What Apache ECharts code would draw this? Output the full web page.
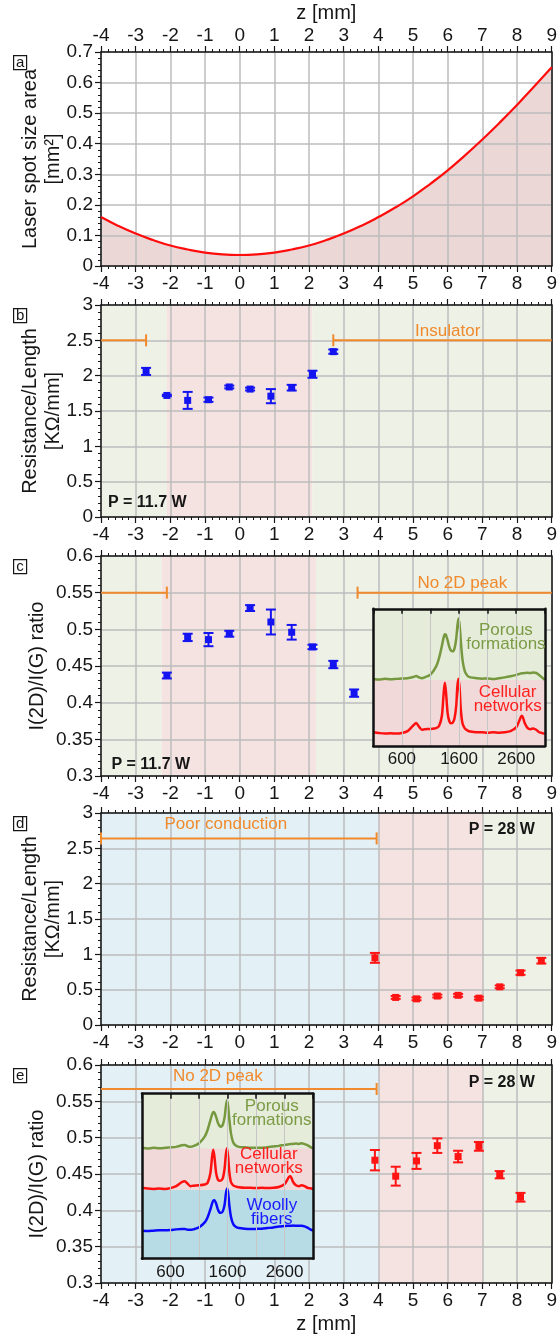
<!DOCTYPE html>
<html>
<head>
<meta charset="utf-8">
<title>Laser spot size, resistance and Raman ratio along z</title>
<script src="https://cdn.jsdelivr.net/npm/echarts@6/dist/echarts.min.js"></script>
<style>
  html, body { margin: 0; padding: 0; background: #ffffff; }
  #chart { width: 560px; height: 1337px; }
</style>
</head>
<body>
<div id="chart"></div>
<script>
// ---------------- data ----------------
// (a) laser spot size area [mm^2] along the focal axis z [mm]
const spotZ    = [-4, -3.5, -3, -2.5, -2, -1.5, -1, -0.5, 0, 0.5, 1, 1.5, 2, 2.5, 3, 3.5, 4, 4.5, 5, 5.5, 6, 6.5, 7, 7.5, 8, 8.5, 9];
const spotArea = [0.160, 0.131, 0.106, 0.085, 0.067, 0.054, 0.044, 0.038, 0.036, 0.038, 0.044, 0.054, 0.067, 0.085, 0.106, 0.131, 0.160, 0.192, 0.228, 0.269, 0.313, 0.362, 0.414, 0.469, 0.527, 0.588, 0.650];

// (b) resistance per length [kOhm/mm], P = 11.7 W
const resLowZ   = [-2.7, -2.1, -1.5, -0.9, -0.3, 0.3, 0.9, 1.5, 2.1, 2.7];
const resLowVal = [2.06, 1.72, 1.65, 1.66, 1.84, 1.81, 1.71, 1.83, 2.02, 2.34];
const resLowErr = [0.05, 0.01, 0.12, 0.03, 0.02, 0.02, 0.10, 0.04, 0.05, 0.03];

// (c) I(2D)/I(G) ratio, P = 11.7 W
const ratioLowZ   = [-2.1, -1.5, -0.9, -0.3, 0.3, 0.9, 1.5, 2.1, 2.7, 3.3];
const ratioLowVal = [0.437, 0.489, 0.486, 0.494, 0.529, 0.510, 0.496, 0.476, 0.452, 0.413];
const ratioLowErr = [0.004, 0.005, 0.009, 0.004, 0.004, 0.017, 0.010, 0.003, 0.005, 0.005];

// (d) resistance per length [kOhm/mm], P = 28 W
const resHighZ   = [3.9, 4.5, 5.1, 5.7, 6.3, 6.9, 7.5, 8.1, 8.7];
const resHighVal = [0.95, 0.39, 0.37, 0.41, 0.42, 0.38, 0.54, 0.74, 0.91];
const resHighErr = [0.07, 0.02, 0.02, 0.02, 0.02, 0.02, 0.02, 0.03, 0.04];

// (e) I(2D)/I(G) ratio, P = 28 W
const ratioHighZ   = [3.9, 4.5, 5.1, 5.7, 6.3, 6.9, 7.5, 8.1];
const ratioHighVal = [0.469, 0.447, 0.468, 0.489, 0.474, 0.488, 0.449, 0.418];
const ratioHighErr = [0.014, 0.013, 0.011, 0.010, 0.008, 0.006, 0.005, 0.006];

// morphology regions along z
const regionsB = [[-4, -2.1, 'green'], [-2.1, 2.1, 'pink'], [2.1, 9, 'green']];
const regionsC = [[-4, -2.25, 'green'], [-2.25, 2.2, 'pink'], [2.2, 9, 'green']];
const regionsD = [[-4, 4, 'blue'], [4, 7.03, 'pink'], [7.03, 9, 'green']];
const regionsE = [[-4, 4, 'blue'], [4, 7.03, 'pink'], [7.03, 9, 'green']];

// ranges without a measurable value
const insulatorRanges = [[-4, -2.7], [2.7, 9]];
const insulatorLevel = 2.5;
const no2DRangesLow = [[-4, -2.1], [3.4, 9]];
const no2DLevelLow = 0.55;
const poorConductionRanges = [[-4, 3.95]];
const poorConductionLevel = 2.64;
const no2DRangesHigh = [[-4, 3.95]];
const no2DLevelHigh = 0.567;

// Raman spectra (insets), normalised stacked intensity
const ramanShift = [100, 200, 300, 400, 500, 600, 700, 800, 850, 900, 950, 1000, 1100, 1200, 1250, 1300, 1330, 1350, 1370, 1400, 1430, 1460, 1490, 1520, 1550, 1570, 1590, 1610, 1630, 1660, 1700, 1750, 1800, 1900, 2000, 2100, 2200, 2300, 2400, 2500, 2600, 2650, 2680, 2700, 2720, 2750, 2800, 2850, 2900, 2950, 3000, 3050, 3100];
const ramanTickLabels = [600, 1600, 2600];

const porousLow = [0.488, 0.484, 0.490, 0.486, 0.489, 0.492, 0.494, 0.503, 0.510, 0.500, 0.494, 0.500, 0.520, 0.580, 0.640, 0.730, 0.790, 0.815, 0.810, 0.770, 0.720, 0.695, 0.690, 0.710, 0.780, 0.870, 0.930, 0.880, 0.770, 0.630, 0.545, 0.510, 0.500, 0.494, 0.490, 0.492, 0.488, 0.494, 0.500, 0.508, 0.518, 0.525, 0.528, 0.530, 0.530, 0.532, 0.533, 0.531, 0.536, 0.532, 0.518, 0.500, 0.482];
const cellularLow = [0.100, 0.094, 0.090, 0.093, 0.090, 0.095, 0.108, 0.150, 0.168, 0.140, 0.118, 0.122, 0.124, 0.130, 0.145, 0.220, 0.380, 0.460, 0.400, 0.240, 0.180, 0.165, 0.170, 0.200, 0.290, 0.430, 0.490, 0.420, 0.270, 0.165, 0.128, 0.112, 0.105, 0.100, 0.100, 0.097, 0.100, 0.097, 0.100, 0.108, 0.135, 0.180, 0.210, 0.220, 0.205, 0.165, 0.130, 0.122, 0.128, 0.118, 0.100, 0.094, 0.088];

const porousHigh = [0.672, 0.668, 0.672, 0.670, 0.672, 0.675, 0.678, 0.688, 0.690, 0.682, 0.678, 0.682, 0.700, 0.740, 0.780, 0.840, 0.875, 0.890, 0.885, 0.860, 0.825, 0.805, 0.800, 0.815, 0.860, 0.920, 0.960, 0.925, 0.850, 0.760, 0.705, 0.685, 0.678, 0.675, 0.672, 0.673, 0.672, 0.676, 0.680, 0.684, 0.690, 0.692, 0.694, 0.695, 0.695, 0.696, 0.698, 0.696, 0.700, 0.695, 0.688, 0.678, 0.668];
const cellularHigh = [0.430, 0.425, 0.423, 0.425, 0.423, 0.428, 0.440, 0.465, 0.470, 0.455, 0.440, 0.443, 0.445, 0.450, 0.460, 0.520, 0.620, 0.660, 0.620, 0.520, 0.480, 0.472, 0.475, 0.490, 0.550, 0.630, 0.670, 0.620, 0.530, 0.465, 0.445, 0.437, 0.433, 0.430, 0.430, 0.428, 0.430, 0.428, 0.430, 0.435, 0.452, 0.480, 0.497, 0.500, 0.490, 0.465, 0.445, 0.440, 0.445, 0.440, 0.430, 0.427, 0.423];
const woollyHigh = [0.170, 0.168, 0.170, 0.172, 0.172, 0.174, 0.178, 0.180, 0.180, 0.176, 0.175, 0.178, 0.190, 0.220, 0.250, 0.300, 0.335, 0.352, 0.355, 0.335, 0.300, 0.280, 0.278, 0.290, 0.330, 0.390, 0.425, 0.400, 0.330, 0.255, 0.210, 0.192, 0.186, 0.182, 0.180, 0.181, 0.182, 0.186, 0.190, 0.195, 0.198, 0.200, 0.200, 0.200, 0.200, 0.201, 0.200, 0.200, 0.200, 0.196, 0.188, 0.178, 0.170];

const insetBandsLow  = [[0, 0.48, 'pink'], [0.48, 1, 'green']];
const insetBandsHigh = [[0, 0.417, 'blue'], [0.417, 0.67, 'pink'], [0.67, 1, 'green']];

// ---------------- styling ----------------
const FONT = '"Liberation Sans", Arial, Helvetica, sans-serif';
const INK = '#161616';
const GRIDLINE = '#bdbdbd';
const ORANGE = '#f08a2c';
const BLUE = '#1414f0';
const RED = '#ff1414';
const SPOT_RED = '#ff0d0d';
const SPOT_FILL = '#ebd7d5';
const BAND = { green: '#eef1e6', pink: '#f5e3e1', blue: '#e3f0f5' };
const INSET_BAND = { green: '#e6ecda', pink: '#f0d9d8', blue: '#b8dce6' };
const SPEC = { green: '#76983f', red: '#ff1010', blue: '#0a0aff' };
const SPEC_TEXT = { green: '#7b9b45', red: '#ff2020', blue: '#1a1aff' };

const LEFT = 101, WIDTH = 455;
const panels = [
  { top: 52,   height: 214, min: 0,   max: 0.7, step: 0.1,  name: 'Laser spot size area\n[mm²]', gap: 36 },
  { top: 305,  height: 212, min: 0,   max: 3,   step: 0.5,  name: 'Resistance/Length\n[KΩ/mm]', gap: 36 },
  { top: 556,  height: 220, min: 0.3, max: 0.6, step: 0.05, name: 'I(2D)/I(G) ratio', gap: 52 },
  { top: 813,  height: 212, min: 0,   max: 3,   step: 0.5,  name: 'Resistance/Length\n[KΩ/mm]', gap: 36 },
  { top: 1065, height: 221, min: 0.3, max: 0.6, step: 0.05, name: 'I(2D)/I(G) ratio', gap: 52 }
];
const Z_MIN = -4, Z_MAX = 9;
const RAMAN_MIN = 100, RAMAN_MAX = 3100;

const px = z => LEFT + (z - Z_MIN) / (Z_MAX - Z_MIN) * WIDTH;
const py = (p, v) => p.top + (p.max - v) / (p.max - p.min) * p.height;

const tickLabel = { fontFamily: FONT, fontSize: 19, color: INK };
const nameText = { fontFamily: FONT, fontSize: 20, color: INK, lineHeight: 23 };
const frameLine = { show: true, onZero: false, lineStyle: { color: INK, width: 1.5 } };
const majorTick = { show: true, inside: false, length: 6, lineStyle: { color: INK, width: 1.2 } };
const minorTick = { show: true, splitNumber: 5, length: 3, lineStyle: { color: INK, width: 1 } };

const grid = [], xAxis = [], yAxis = [], series = [];

panels.forEach((p, i) => {
  grid.push({ left: LEFT, top: p.top, width: WIDTH, height: p.height });
  // bottom z axis with labels
  xAxis.push({
    gridIndex: i, type: 'value', position: 'bottom', min: Z_MIN, max: Z_MAX, interval: 1, z: 3,
    axisLine: frameLine, axisTick: majorTick, minorTick: minorTick,
    axisLabel: Object.assign({ show: true, margin: 8 }, tickLabel),
    splitLine: { show: true, lineStyle: { color: GRIDLINE, width: 1.5 } },
    name: i === 4 ? 'z [mm]' : '', nameLocation: 'middle', nameGap: 30, nameMoveOverlap: false, nameTextStyle: nameText
  });
  // top z axis (ticks only, labels on the first panel)
  xAxis.push({
    gridIndex: i, type: 'value', position: 'top', min: Z_MIN, max: Z_MAX, interval: 1, z: 3,
    axisLine: frameLine, axisTick: majorTick, minorTick: minorTick,
    axisLabel: Object.assign({ show: i === 0, margin: 7 }, tickLabel),
    splitLine: { show: false },
    name: i === 0 ? 'z [mm]' : '', nameLocation: 'middle', nameGap: 27, nameMoveOverlap: false, nameTextStyle: nameText
  });
  yAxis.push({
    gridIndex: i, type: 'value', position: 'left', min: p.min, max: p.max, interval: p.step, z: 3,
    axisLine: frameLine, axisTick: majorTick, minorTick: minorTick,
    axisLabel: Object.assign({ show: true, margin: 8 }, tickLabel),
    splitLine: { show: true, lineStyle: { color: GRIDLINE, width: 1.5 } },
    name: p.name, nameLocation: 'middle', nameGap: p.gap, nameMoveOverlap: false, nameTextStyle: nameText
  });
  yAxis.push({
    gridIndex: i, type: 'value', position: 'right', min: p.min, max: p.max, interval: p.step, z: 3,
    axisLine: frameLine, axisTick: { show: false }, axisLabel: { show: false }, splitLine: { show: false }
  });
});

// ---- insets (Raman spectra) placed in panel coordinates ----
function insetBox(pi, z1, z2, vTop, vBottom) {
  const p = panels[pi];
  const l = px(z1), r = px(z2), t = py(p, vTop), b = py(p, vBottom);
  return { left: l, top: t, width: r - l, height: b - t };
}
const insets = [insetBox(2, 3.78, 8.68, 0.528, 0.341), insetBox(4, -2.83, 2.06, 0.561, 0.337)];
const insetFrame = { show: true, onZero: false, lineStyle: { color: '#111', width: 2.5 } };
insets.forEach((box, k) => {
  const gi = 5 + k;
  grid.push(box);
  xAxis.push({
    gridIndex: gi, type: 'value', position: 'bottom', min: RAMAN_MIN, max: RAMAN_MAX, interval: 500, z: 8,
    axisLine: insetFrame, axisTick: { show: false },
    axisLabel: { show: true, margin: 5, fontFamily: FONT, fontSize: 17, color: INK,
      formatter: v => ramanTickLabels.indexOf(v) >= 0 ? String(v) : '' },
    splitLine: { show: true, lineStyle: { color: '#c6c6c6', width: 1 } }
  });
  xAxis.push({
    gridIndex: gi, type: 'value', position: 'top', min: RAMAN_MIN, max: RAMAN_MAX, interval: 500, z: 8,
    axisLine: insetFrame, axisTick: { show: true, inside: true, length: 5, lineStyle: { color: '#111', width: 1.5 } },
    axisLabel: { show: false }, splitLine: { show: false }
  });
  yAxis.push({ gridIndex: gi, type: 'value', position: 'left', min: 0, max: 1, z: 8,
    axisLine: insetFrame, axisTick: { show: false }, axisLabel: { show: false }, splitLine: { show: false } });
  yAxis.push({ gridIndex: gi, type: 'value', position: 'right', min: 0, max: 1, z: 8,
    axisLine: insetFrame, axisTick: { show: false }, axisLabel: { show: false }, splitLine: { show: false } });
});

// ---- series helpers ----
function regionSeries(pi, regions) {
  const p = panels[pi];
  return {
    type: 'custom', xAxisIndex: 2 * pi, yAxisIndex: 2 * pi, z: 1, silent: true,
    encode: { x: [0, 1] },
    data: regions.map(r => ({ value: [r[0], r[1]], itemStyle: { color: BAND[r[2]] } })),
    renderItem(params, api) {
      const a = api.coord([api.value(0), p.max]), b = api.coord([api.value(1), p.min]);
      return { type: 'rect', shape: { x: a[0], y: a[1], width: b[0] - a[0], height: b[1] - a[1] },
        style: { fill: api.visual('color') } };
    }
  };
}

function errorSeries(pi, zs, vals, errs, color) {
  return {
    type: 'custom', xAxisIndex: 2 * pi, yAxisIndex: 2 * pi, z: 4, silent: true,
    encode: { x: 0, y: 1 },
    data: zs.map((z, k) => [z, vals[k], errs[k]]),
    renderItem(params, api) {
      const x = api.value(0), y = api.value(1), e = api.value(2);
      const hi = api.coord([x, y + e]), lo = api.coord([x, y - e]), c = api.coord([x, y]);
      const cap = 5, m = 3.5;
      const st = { stroke: color, lineWidth: 2 };
      return { type: 'group', children: [
        { type: 'line', shape: { x1: hi[0], y1: hi[1], x2: lo[0], y2: lo[1] }, style: st },
        { type: 'line', shape: { x1: hi[0] - cap, y1: hi[1], x2: hi[0] + cap, y2: hi[1] }, style: st },
        { type: 'line', shape: { x1: lo[0] - cap, y1: lo[1], x2: lo[0] + cap, y2: lo[1] }, style: st },
        { type: 'rect', shape: { x: c[0] - m, y: c[1] - m, width: 2 * m, height: 2 * m }, style: { fill: color } }
      ] };
    }
  };
}

function rangeSeries(pi, ranges, level, caps) {
  return {
    type: 'custom', xAxisIndex: 2 * pi, yAxisIndex: 2 * pi, z: 5, silent: true,
    encode: { x: [0, 1], y: 2 },
    data: ranges.map(r => [r[0], r[1], level]),
    renderItem(params, api) {
      const a = api.coord([api.value(0), api.value(2)]), b = api.coord([api.value(1), api.value(2)]);
      const st = { stroke: ORANGE, lineWidth: 2 };
      const ch = [{ type: 'line', shape: { x1: a[0], y1: a[1], x2: b[0], y2: b[1] }, style: st }];
      const c = caps[params.dataIndex];
      if (c[0]) ch.push({ type: 'line', shape: { x1: a[0], y1: a[1] - 6, x2: a[0], y2: a[1] + 6 }, style: st });
      if (c[1]) ch.push({ type: 'line', shape: { x1: b[0], y1: b[1] - 6, x2: b[0], y2: b[1] + 6 }, style: st });
      return { type: 'group', children: ch };
    }
  };
}

function textSeries(xi, yi, x, y, text, style) {
  return {
    type: 'custom', xAxisIndex: xi, yAxisIndex: yi, z: 9, silent: true,
    encode: { x: 0, y: 1 }, data: [[x, y]],
    renderItem(params, api) {
      const c = api.coord([api.value(0), api.value(1)]);
      return { type: 'text', x: c[0], y: c[1],
        style: Object.assign({ text: text, fontFamily: FONT, align: 'center', verticalAlign: 'middle',
          textAlign: 'center', textVerticalAlign: 'middle' }, style) };
    }
  };
}

function insetBandSeries(gi, bands) {
  return {
    type: 'custom', xAxisIndex: 2 * gi, yAxisIndex: 2 * gi, z: 6, silent: true,
    encode: { y: [0, 1] },
    data: bands.map(b => ({ value: [b[0], b[1]], itemStyle: { color: INSET_BAND[b[2]] } })),
    renderItem(params, api) {
      const a = api.coord([RAMAN_MIN, api.value(1)]), b = api.coord([RAMAN_MAX, api.value(0)]);
      return { type: 'rect', shape: { x: a[0], y: a[1], width: b[0] - a[0], height: b[1] - a[1] },
        style: { fill: api.visual('color') } };
    }
  };
}

function spectrumSeries(gi, values, color) {
  return {
    type: 'line', xAxisIndex: 2 * gi, yAxisIndex: 2 * gi, z: 7, silent: true,
    data: ramanShift.map((w, k) => [w, values[k]]),
    symbol: 'none', smooth: 0.25, lineStyle: { color: color, width: 2.5 }
  };
}

// (a) spot size: filled area below, curve on top of the grid
series.push({
  type: 'line', xAxisIndex: 0, yAxisIndex: 0, z: 1, silent: true, symbol: 'none', smooth: true,
  data: spotZ.map((z, k) => [z, spotArea[k]]),
  lineStyle: { width: 0 }, areaStyle: { color: SPOT_FILL, opacity: 1 }
});
series.push({
  type: 'line', xAxisIndex: 0, yAxisIndex: 0, z: 4, silent: true, symbol: 'none', smooth: true,
  data: spotZ.map((z, k) => [z, spotArea[k]]),
  lineStyle: { color: SPOT_RED, width: 2.2 }
});

// region backgrounds
series.push(regionSeries(1, regionsB), regionSeries(2, regionsC), regionSeries(3, regionsD), regionSeries(4, regionsE));

// ranges without data
series.push(rangeSeries(1, insulatorRanges, insulatorLevel, [[false, true], [true, false]]));
series.push(rangeSeries(2, no2DRangesLow, no2DLevelLow, [[false, true], [true, false]]));
series.push(rangeSeries(3, poorConductionRanges, poorConductionLevel, [[true, true]]));
series.push(rangeSeries(4, no2DRangesHigh, no2DLevelHigh, [[false, true]]));

// measurements
series.push(errorSeries(1, resLowZ, resLowVal, resLowErr, BLUE));
series.push(errorSeries(2, ratioLowZ, ratioLowVal, ratioLowErr, BLUE));
series.push(errorSeries(3, resHighZ, resHighVal, resHighErr, RED));
series.push(errorSeries(4, ratioHighZ, ratioHighVal, ratioHighErr, RED));

// annotations
const orangeText = { fill: ORANGE, fontSize: 17 };
const powerText = { fill: INK, fontSize: 16, fontWeight: 'bold' };
series.push(textSeries(2, 2, 6.0, 2.63, 'Insulator', orangeText));
series.push(textSeries(4, 4, 6.42, 0.563, 'No 2D peak', orangeText));
series.push(textSeries(6, 6, -0.4, 2.84, 'Poor conduction', orangeText));
series.push(textSeries(8, 8, -0.63, 0.585, 'No 2D peak', orangeText));
series.push(textSeries(2, 2, -3.8, 0.2, 'P = 11.7 W', Object.assign({ align: 'left', textAlign: 'left' }, powerText)));
series.push(textSeries(4, 4, -3.7, 0.316, 'P = 11.7 W', Object.assign({ align: 'left', textAlign: 'left' }, powerText)));
series.push(textSeries(6, 6, 7.56, 2.76, 'P = 28 W', powerText));
series.push(textSeries(8, 8, 7.56, 0.576, 'P = 28 W', powerText));

// inset spectra
series.push(insetBandSeries(5, insetBandsLow));
series.push(spectrumSeries(5, porousLow, SPEC.green), spectrumSeries(5, cellularLow, SPEC.red));
series.push(insetBandSeries(6, insetBandsHigh));
series.push(spectrumSeries(6, porousHigh, SPEC.green), spectrumSeries(6, cellularHigh, SPEC.red), spectrumSeries(6, woollyHigh, SPEC.blue));
const insetLabel = c => ({ fill: c, fontSize: 17, lineHeight: 14 });
series.push(textSeries(10, 10, 2420, 0.79, 'Porous\nformations', insetLabel(SPEC_TEXT.green)));
series.push(textSeries(10, 10, 2450, 0.34, 'Cellular\nnetworks', insetLabel(SPEC_TEXT.red)));
series.push(textSeries(12, 12, 2376, 0.88, 'Porous\nformations', insetLabel(SPEC_TEXT.green)));
series.push(textSeries(12, 12, 2324, 0.59, 'Cellular\nnetworks', insetLabel(SPEC_TEXT.red)));
series.push(textSeries(12, 12, 2376, 0.28, 'Woolly\nfibers', insetLabel(SPEC_TEXT.blue)));

// panel letters
const graphic = panels.map((p, i) => ({
  type: 'group', left: 13, top: p.top + 3, z: 10,
  children: [
    { type: 'rect', shape: { x: 0, y: 0, width: 13, height: 14 }, style: { fill: '#ffffff', stroke: INK, lineWidth: 1.2 } },
    { type: 'text', x: 6.5, y: 7, style: { text: 'abcde'[i], fontFamily: FONT, fontSize: 15, fill: INK,
      align: 'center', verticalAlign: 'middle', textAlign: 'center', textVerticalAlign: 'middle' } }
  ]
}));

const chart = echarts.init(document.getElementById('chart'), null, { renderer: 'canvas' });
chart.setOption({
  backgroundColor: '#ffffff',
  animation: false,
  textStyle: { fontFamily: FONT },
  grid: grid, xAxis: xAxis, yAxis: yAxis, series: series, graphic: graphic
});
</script>
</body>
</html>
